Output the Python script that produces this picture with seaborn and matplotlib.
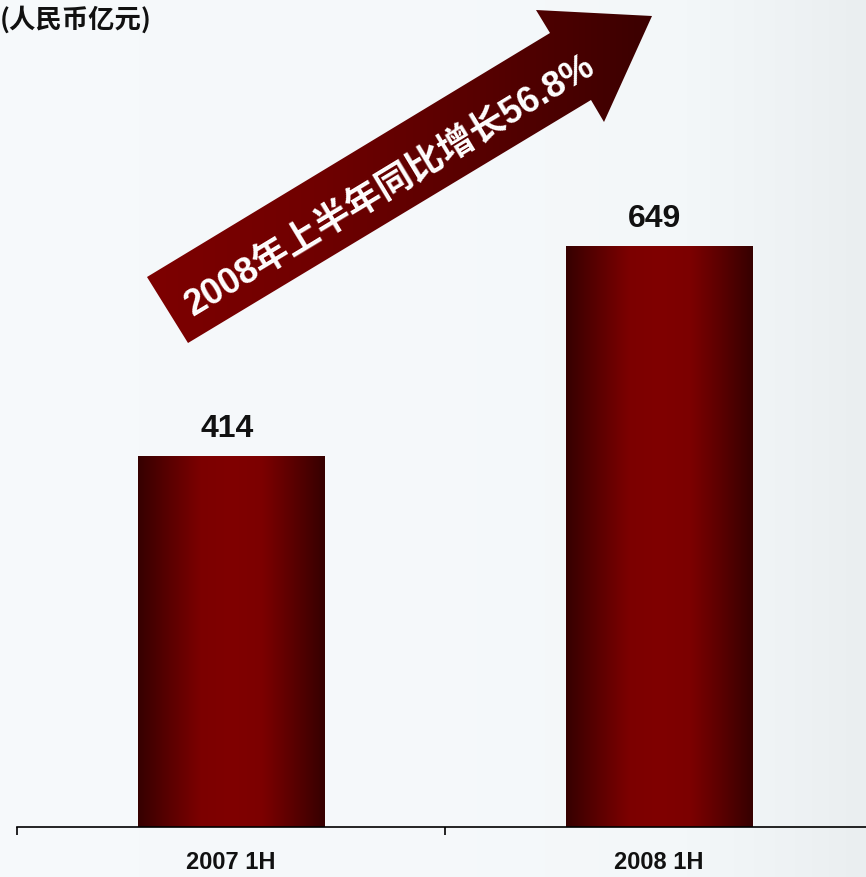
import numpy as np
import pandas as pd
import matplotlib
matplotlib.use("Agg")
import matplotlib.pyplot as plt
from matplotlib.colors import LinearSegmentedColormap
from matplotlib.patches import Polygon
from matplotlib import font_manager
import seaborn as sns

periods = ["2007 1H", "2008 1H"]
revenue = [414, 649]
unit_label = "(人民币亿元)"
growth_label = "2008年上半年同比增长56.8%"

sns.set_theme(style="white")
plt.rcParams["font.family"] = ["Liberation Sans", "Noto Sans CJK SC", "DejaVu Sans"]

installed = {f.name for f in font_manager.fontManager.ttflist}
narrow = "Liberation Sans Narrow" if "Liberation Sans Narrow" in installed else "Liberation Sans"
cat_size = 19 if narrow == "Liberation Sans Narrow" else 17

W, H = 866, 877
fig = plt.figure(figsize=(W / 100, H / 100), dpi=100)
bg = "#f5f8fa"
fig.patch.set_facecolor(bg)

# faint background shading
bgax = fig.add_axes([0, 0, 1, 1], zorder=-5)
bg_cmap = LinearSegmentedColormap.from_list("bg", ["#f6f9fb", "#f3f7f9", "#eaeef0"])
bgax.imshow(np.linspace(0, 1, 256).reshape(1, -1) ** 3, cmap=bg_cmap, aspect="auto",
            extent=(0, 1, 0, 1))
bgax.axis("off")

df = pd.DataFrame({"period": periods, "revenue": revenue})

ax = fig.add_axes([17 / W, 50 / H, 856 / W, 827 / H])
ax.patch.set_alpha(0)
sns.barplot(data=df, x="period", y="revenue", ax=ax, width=0.436, color="#7a0000",
            saturation=1)
ax.set_xlim(-0.5, 1.5)
ax.set_ylim(0, 827 / 0.8955)

# gradient fill on each bar
bar_cmap = LinearSegmentedColormap.from_list(
    "bar", ["#360000", "#5a0000", "#7c0000", "#800000", "#7c0000", "#5a0000", "#360000"])
grad = np.linspace(0, 1, 256).reshape(1, -1)
for p in ax.patches:
    x0, y0, w, h = p.get_x(), p.get_y(), p.get_width(), p.get_height()
    im = ax.imshow(grad, extent=[x0, x0 + w, y0, y0 + h], cmap=bar_cmap,
                   aspect="auto", zorder=p.get_zorder() + 0.1)
    im.set_clip_path(p)
ax.set_xlim(-0.5, 1.5)
ax.set_ylim(0, 827 / 0.8955)

for i, v in enumerate(revenue):
    ax.text(i - 0.01, v + 21, str(v), ha="center", va="baseline", fontsize=23,
            fontweight="bold", color="#111111")

for s in ["top", "right", "left"]:
    ax.spines[s].set_visible(False)
ax.spines["bottom"].set_color("black")
ax.spines["bottom"].set_linewidth(1.2)
ax.set_yticks([])
ax.set_xticks([-0.5, 0.5, 1.5], labels=["", "", ""])
ax.set_xticks([0, 1], labels=periods, minor=True)
ax.tick_params(axis="x", which="major", bottom=True, length=6, width=1.2,
               color="black", direction="out")
ax.tick_params(axis="x", which="minor", bottom=True, length=0, pad=17)
for lab in ax.get_xticklabels(minor=True):
    lab.set_fontfamily(narrow)
    lab.set_fontsize(cat_size)
    lab.set_fontweight("bold")
    lab.set_color("#111111")
ax.set_xlabel("")
ax.set_ylabel("")

# overlay in pixel coordinates for the arrow and unit label
ov = fig.add_axes([0, 0, 1, 1], zorder=5)
ov.set_xlim(0, W)
ov.set_ylim(H, 0)
ov.axis("off")
ov.patch.set_alpha(0)

arrow_pts = [(147, 277), (550, 33), (536, 10), (652, 16), (604, 122), (591, 100), (188, 343)]
arrow = Polygon(arrow_pts, closed=True, facecolor="none", edgecolor="none")
ov.add_patch(arrow)
arrow_cmap = LinearSegmentedColormap.from_list("arrow", ["#7e0000", "#700000", "#560000", "#3a0000"])
aim = ov.imshow(grad, extent=(140, 660, 350, 5), cmap=arrow_cmap, aspect="auto")
aim.set_clip_path(arrow)
ov.set_xlim(0, W)
ov.set_ylim(H, 0)

ov.text(390, 186, growth_label, rotation=31.2, rotation_mode="anchor", ha="center",
        va="center", fontsize=26, fontweight="bold", color="white",
        family=["Liberation Sans", "Noto Sans CJK SC"])

ov.text(0, 20, unit_label, ha="left", va="center", fontsize=19, fontweight="bold",
        color="#111111", family=["Noto Sans CJK SC", "DejaVu Sans"])

fig.savefig("out.png", dpi=100, facecolor=fig.get_facecolor())
